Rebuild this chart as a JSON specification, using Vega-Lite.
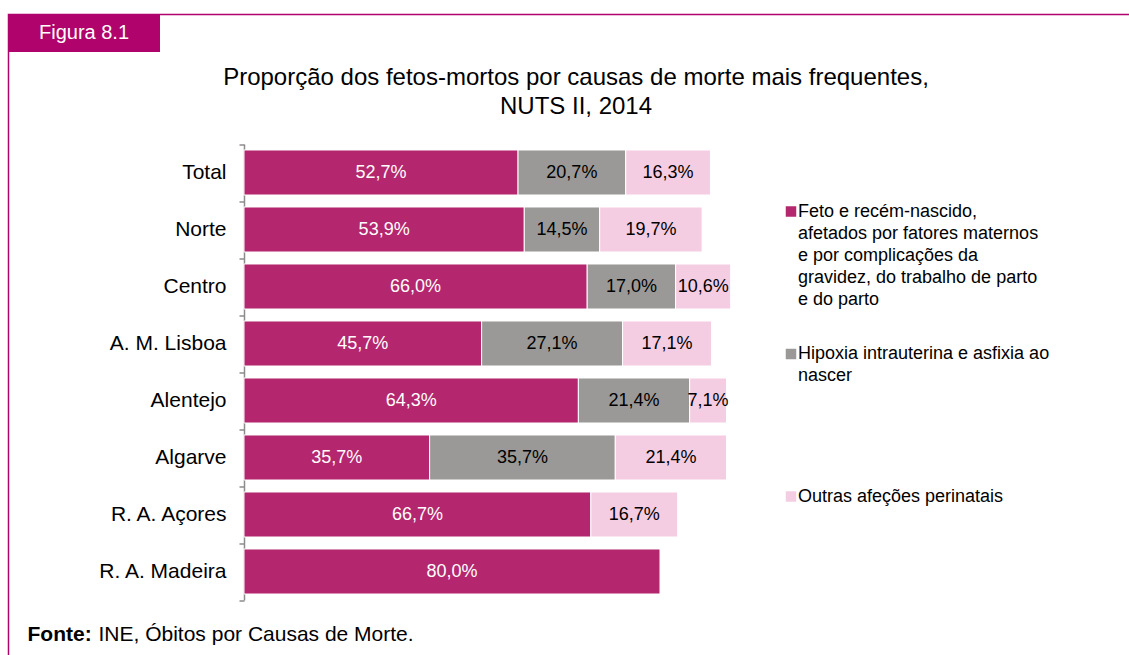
{
  "$schema": "https://vega.github.io/schema/vega-lite/v6.json",
  "autosize": {"type": "none"},
  "width": 1125,
  "height": 645,
  "padding": {"left": 8.5, "top": 14.5, "right": -4.5, "bottom": -4.5},
  "background": "white",
  "config": {
    "view": {"stroke": "#B0036B", "strokeWidth": 1.5},
    "font": "Liberation Sans",
    "style": {"guide-label": {"lineHeight": 22, "dy": 5}},
    "locale": {"number": {"decimal": ",", "thousands": ".", "grouping": [3], "currency": ["", " €"]}}
  },
  "title": {
    "text": ["Proporção dos fetos-mortos por causas de morte mais frequentes,", "NUTS II, 2014"],
    "anchor": "middle",
    "frame": "group",
    "font": "Liberation Sans",
    "fontSize": 24,
    "fontWeight": "normal",
    "color": "black",
    "lineHeight": 29,
    "baseline": "alphabetic",
    "offset": 0,
    "dy": 129,
    "dx": 5
  },
  "layer": [
    {
      "data": {
        "values": [
          {"region": "Total", "cause": "Feto e recém-nascido, afetados por fatores maternos e por complicações da gravidez, do trabalho de parto e do parto", "value": 0.527},
          {"region": "Total", "cause": "Hipoxia intrauterina e asfixia ao nascer", "value": 0.207},
          {"region": "Total", "cause": "Outras afeções perinatais", "value": 0.163},
          {"region": "Norte", "cause": "Feto e recém-nascido, afetados por fatores maternos e por complicações da gravidez, do trabalho de parto e do parto", "value": 0.539},
          {"region": "Norte", "cause": "Hipoxia intrauterina e asfixia ao nascer", "value": 0.145},
          {"region": "Norte", "cause": "Outras afeções perinatais", "value": 0.197},
          {"region": "Centro", "cause": "Feto e recém-nascido, afetados por fatores maternos e por complicações da gravidez, do trabalho de parto e do parto", "value": 0.660},
          {"region": "Centro", "cause": "Hipoxia intrauterina e asfixia ao nascer", "value": 0.170},
          {"region": "Centro", "cause": "Outras afeções perinatais", "value": 0.106},
          {"region": "A. M. Lisboa", "cause": "Feto e recém-nascido, afetados por fatores maternos e por complicações da gravidez, do trabalho de parto e do parto", "value": 0.457},
          {"region": "A. M. Lisboa", "cause": "Hipoxia intrauterina e asfixia ao nascer", "value": 0.271},
          {"region": "A. M. Lisboa", "cause": "Outras afeções perinatais", "value": 0.171},
          {"region": "Alentejo", "cause": "Feto e recém-nascido, afetados por fatores maternos e por complicações da gravidez, do trabalho de parto e do parto", "value": 0.643},
          {"region": "Alentejo", "cause": "Hipoxia intrauterina e asfixia ao nascer", "value": 0.214},
          {"region": "Alentejo", "cause": "Outras afeções perinatais", "value": 0.071},
          {"region": "Algarve", "cause": "Feto e recém-nascido, afetados por fatores maternos e por complicações da gravidez, do trabalho de parto e do parto", "value": 0.357},
          {"region": "Algarve", "cause": "Hipoxia intrauterina e asfixia ao nascer", "value": 0.357},
          {"region": "Algarve", "cause": "Outras afeções perinatais", "value": 0.214},
          {"region": "R. A. Açores", "cause": "Feto e recém-nascido, afetados por fatores maternos e por complicações da gravidez, do trabalho de parto e do parto", "value": 0.667},
          {"region": "R. A. Açores", "cause": "Outras afeções perinatais", "value": 0.167},
          {"region": "R. A. Madeira", "cause": "Feto e recém-nascido, afetados por fatores maternos e por complicações da gravidez, do trabalho de parto e do parto", "value": 0.800}
        ]
      },
      "encoding": {
        "y": {
          "field": "region", "type": "nominal", "sort": null,
          "scale": {"range": [129.5, 585.5], "paddingInner": 0, "paddingOuter": 0},
          "axis": {
            "orient": "left", "offset": -235.5, "title": null, "grid": false,
            "domainColor": "#8c8c8c", "domainWidth": 1.5,
            "tickColor": "#8c8c8c", "tickWidth": 1.5, "tickSize": 5, "tickBand": "extent",
            "labelFont": "Liberation Sans", "labelFontSize": 21, "labelColor": "black", "labelPadding": 13, "labelLimit": 300,
            "labelOffset": -5
          }
        },
        "order": {"field": "cause", "type": "ordinal", "sort": "ascending"}
      },
      "layer": [
        {
          "mark": {"type": "bar", "height": {"band": 0.79}, "stroke": "white", "strokeWidth": 1},
          "encoding": {
            "x": {
              "field": "value", "type": "quantitative", "stack": "zero",
              "scale": {"domain": [0, 1], "range": [235.5, 755.5], "nice": false, "zero": true},
              "axis": {
                "orient": "bottom", "labels": false, "ticks": false, "domain": false, "grid": false,
                "title": "INE, Óbitos por Causas de Morte.",
                "titleX": 89.5, "titleY": -19.5, "titleAnchor": "start", "titleAlign": "left", "titleBaseline": "alphabetic",
                "titleFont": "Liberation Sans", "titleFontSize": 21, "titleFontWeight": "normal", "titleColor": "black"
              }
            },
            "color": {
              "field": "cause", "type": "nominal",
              "scale": {
                "domain": [
                  "Feto e recém-nascido, afetados por fatores maternos e por complicações da gravidez, do trabalho de parto e do parto",
                  "Hipoxia intrauterina e asfixia ao nascer",
                  "Outras afeções perinatais"
                ],
                "range": ["#B4266E", "#9A9997", "#F5CDE2"]
              },
              "legend": {
                "orient": "none", "legendX": 773.5, "legendY": 188,
                "title": null, "symbolType": "square", "symbolSize": 110, "symbolStrokeWidth": 0,
                "labelFont": "Liberation Sans", "labelFontSize": 18,
                "labelBaseline": "alphabetic", "labelOffset": -2, "labelLimit": 400, "labelColor": "black",
                "rowPadding": 36.5, "padding": 0,
                "labelExpr": "datum.value == 'Outras afeções perinatais' ? ['Outras afeções perinatais', '', '', '', ''] : datum.value == 'Hipoxia intrauterina e asfixia ao nascer' ? ['Hipoxia intrauterina e asfixia ao', 'nascer', '', '', ''] : ['Feto e recém-nascido,', 'afetados por fatores maternos', 'e por complicações da', 'gravidez, do trabalho de parto', 'e do parto']"
              }
            }
          }
        },
        {
          "mark": {"type": "text", "fontSize": 18, "font": "Liberation Sans", "baseline": "middle", "align": "center"},
          "encoding": {
            "x": {"field": "value", "type": "quantitative", "stack": "zero", "bandPosition": 0.5},
            "detail": {"field": "cause", "type": "nominal"},
            "text": {"field": "value", "type": "quantitative", "format": ".1%"},
            "color": {
              "condition": {"test": "indexof(datum.cause, 'Feto') == 0", "value": "white"},
              "value": "black"
            }
          }
        }
      ]
    },
    {
      "data": {"values": [{"fig": "Figura 8.1"}]},
      "encoding": {
        "x": {
          "field": "fig", "type": "nominal",
          "scale": {"type": "band", "range": [-0.5, 151.5], "paddingInner": 0, "paddingOuter": 0},
          "axis": {
            "orient": "bottom", "labels": false, "ticks": false, "domain": false, "grid": false,
            "title": "Fonte:",
            "titleX": 18.5, "titleY": -19.5, "titleAnchor": "start", "titleAlign": "left", "titleBaseline": "alphabetic",
            "titleFont": "Liberation Sans", "titleFontSize": 21, "titleFontWeight": "bold", "titleColor": "black"
          }
        },
        "y": {
          "field": "fig", "type": "nominal",
          "scale": {"type": "band", "range": [-0.5, 37.5], "paddingInner": 0, "paddingOuter": 0},
          "axis": null
        }
      },
      "layer": [
        {"mark": {"type": "rect", "color": "#B0036B"}},
        {
          "mark": {"type": "text", "color": "white", "fontSize": 20, "font": "Liberation Sans", "baseline": "middle", "align": "center"},
          "encoding": {"text": {"field": "fig", "type": "nominal"}}
        }
      ]
    }
  ],
  "resolve": {
    "scale": {"x": "independent", "y": "independent"},
    "axis": {"x": "independent", "y": "independent"}
  }
}
